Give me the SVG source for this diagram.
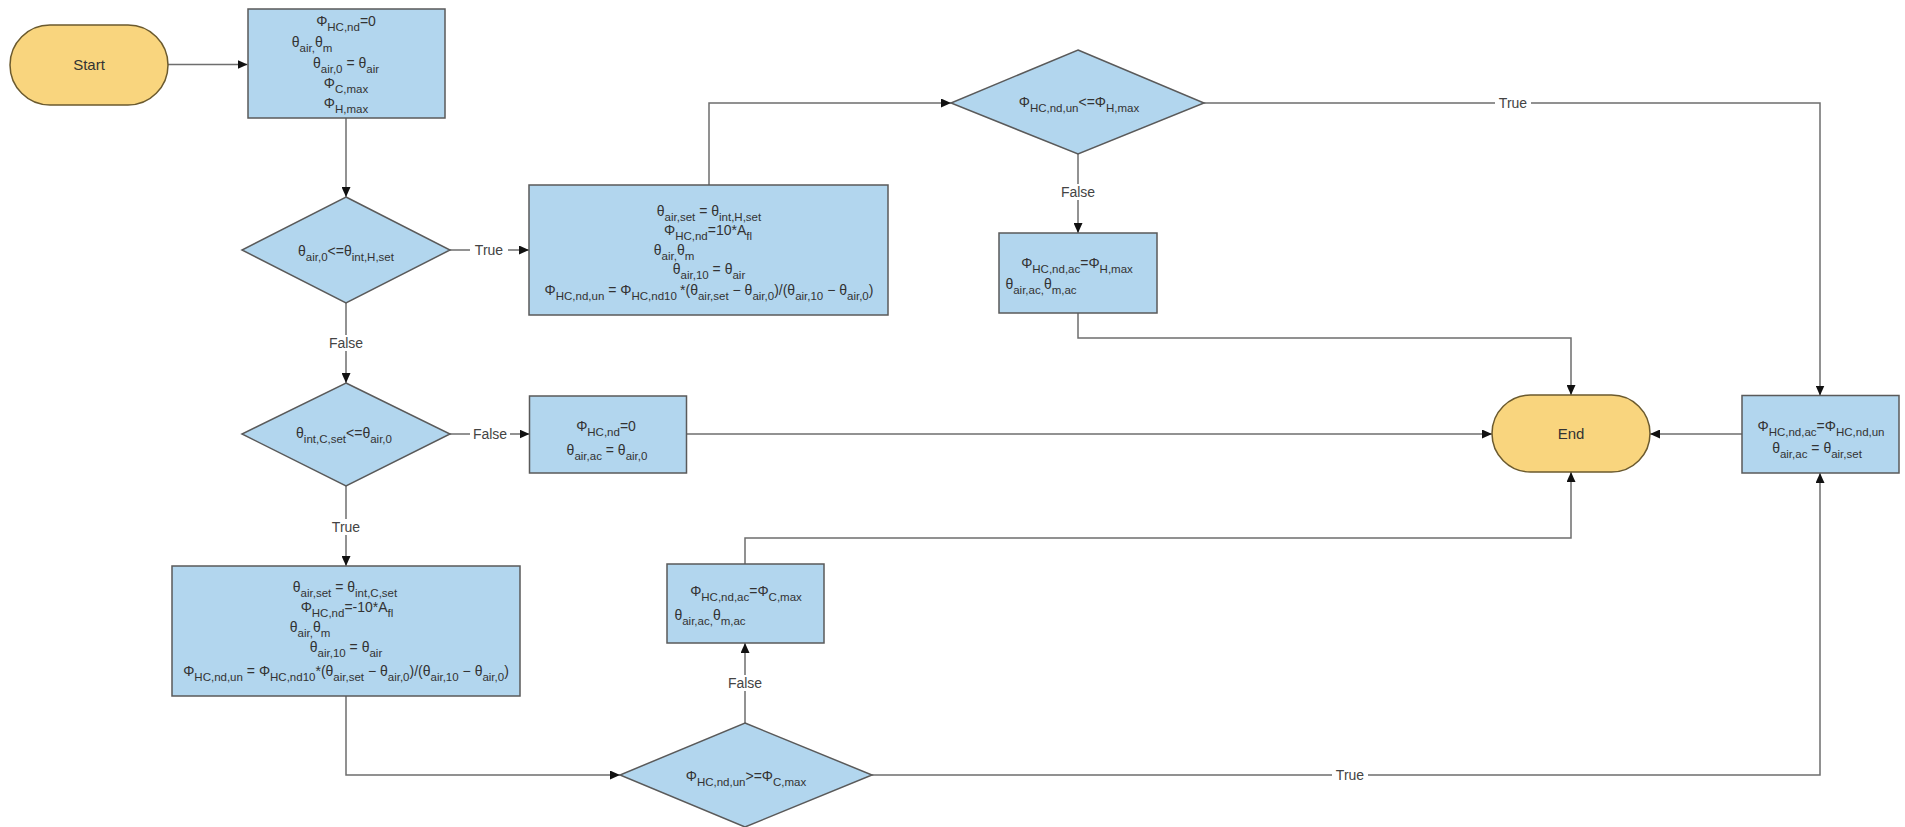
<svg xmlns="http://www.w3.org/2000/svg" width="1905" height="827" viewBox="0 0 1905 827">
<defs>
<style>
.box{fill:#b2d6ee;stroke:#5a5a5a;stroke-width:1.5}
.term{fill:#f9d57e;stroke:#6b5a2e;stroke-width:1.5}
.t{font-family:"Liberation Sans",Arial,sans-serif;font-size:14px;fill:#333;text-anchor:middle}
.s{font-size:11.5px}
.edge{fill:none;stroke:#6e6e6e;stroke-width:1.5}
.lbl{font-family:"Liberation Sans",Arial,sans-serif;font-size:14px;fill:#444;text-anchor:middle}
.lb{fill:#fff}
</style>
<marker id="arr" viewBox="0 0 10 9" refX="10" refY="4.5" markerWidth="10" markerHeight="9" markerUnits="userSpaceOnUse" orient="auto"><path d="M0,0 L10,4.5 L0,9 z" fill="#111"/></marker>
</defs>
<rect width="1905" height="827" fill="#fff"/>

<g id="connectors">
<path class="edge" d="M168,64.5 H247.5" marker-end="url(#arr)"/>
<path class="edge" d="M346,118 V197" marker-end="url(#arr)"/>
<path class="edge" d="M346,303 V383" marker-end="url(#arr)"/>
<path class="edge" d="M450,250 H529" marker-end="url(#arr)"/>
<path class="edge" d="M709,185 V103 H951" marker-end="url(#arr)"/>
<path class="edge" d="M1204,103 H1820 V395.5" marker-end="url(#arr)"/>
<path class="edge" d="M1078,154 V233" marker-end="url(#arr)"/>
<path class="edge" d="M1078,313 V338 H1571 V395" marker-end="url(#arr)"/>
<path class="edge" d="M450,434 H529.5" marker-end="url(#arr)"/>
<path class="edge" d="M687,434 H1492" marker-end="url(#arr)"/>
<path class="edge" d="M346,486 V566" marker-end="url(#arr)"/>
<path class="edge" d="M346,696 V775 H620" marker-end="url(#arr)"/>
<path class="edge" d="M745,723 V643" marker-end="url(#arr)"/>
<path class="edge" d="M745,564 V538 H1571 V472" marker-end="url(#arr)"/>
<path class="edge" d="M872,775 H1820 V473" marker-end="url(#arr)"/>
<path class="edge" d="M1742,434 H1650" marker-end="url(#arr)"/>
<g id="edge-labels">
<rect class="lb" x="470" y="242" width="38" height="16"/><text class="lbl" x="489" y="255">True</text>
<rect class="lb" x="326" y="335" width="40" height="16"/><text class="lbl" x="346" y="348">False</text>
<rect class="lb" x="470" y="426" width="40" height="16"/><text class="lbl" x="490" y="439">False</text>
<rect class="lb" x="327" y="519" width="38" height="16"/><text class="lbl" x="346" y="532">True</text>
<rect class="lb" x="1058" y="184" width="40" height="16"/><text class="lbl" x="1078" y="197">False</text>
<rect class="lb" x="1495" y="95" width="36" height="16"/><text class="lbl" x="1513" y="108">True</text>
<rect class="lb" x="725" y="675" width="40" height="16"/><text class="lbl" x="745" y="688">False</text>
<rect class="lb" x="1332" y="767" width="36" height="16"/><text class="lbl" x="1350" y="780">True</text>
</g>
</g>

<g id="start">
<rect class="term" x="10" y="25" width="158" height="80" rx="40" ry="40"/>
<text class="t" x="89" y="70" style="font-size:15px">Start</text>
</g>

<g id="init">
<rect class="box" x="248" y="9" width="197" height="109"/>
<text class="t" x="346" y="26">Φ<tspan class="s" dy="5">HC,nd</tspan><tspan dy="-5">=0</tspan></text>
<text class="t" x="312" y="47">θ<tspan class="s" dy="5">air,</tspan><tspan dy="-5">θ</tspan><tspan class="s" dy="5">m</tspan></text>
<text class="t" x="346" y="68">θ<tspan class="s" dy="5">air,0</tspan><tspan dy="-5"> = θ</tspan><tspan class="s" dy="5">air</tspan></text>
<text class="t" x="346" y="88">Φ<tspan class="s" dy="5">C,max</tspan></text>
<text class="t" x="346" y="108">Φ<tspan class="s" dy="5">H,max</tspan></text>
</g>

<g id="dec-heat">
<polygon class="box" points="346,197 450,250 346,303 242,250"/>
<text class="t" x="346" y="256">θ<tspan class="s" dy="5">air,0</tspan><tspan dy="-5">&lt;=θ</tspan><tspan class="s" dy="5">int,H,set</tspan></text>
</g>

<g id="heat-calc">
<rect class="box" x="529" y="185" width="359" height="130"/>
<text class="t" x="709" y="216">θ<tspan class="s" dy="5">air,set</tspan><tspan dy="-5"> = θ</tspan><tspan class="s" dy="5">int,H,set</tspan></text>
<text class="t" x="708" y="235">Φ<tspan class="s" dy="5">HC,nd</tspan><tspan dy="-5">=10*A</tspan><tspan class="s" dy="5">fl</tspan></text>
<text class="t" x="674" y="255">θ<tspan class="s" dy="5">air,</tspan><tspan dy="-5">θ</tspan><tspan class="s" dy="5">m</tspan></text>
<text class="t" x="709" y="274">θ<tspan class="s" dy="5">air,10</tspan><tspan dy="-5"> = θ</tspan><tspan class="s" dy="5">air</tspan></text>
<text class="t" x="709" y="295">Φ<tspan class="s" dy="5">HC,nd,un</tspan><tspan dy="-5"> = Φ</tspan><tspan class="s" dy="5">HC,nd10 </tspan><tspan dy="-5">*(θ</tspan><tspan class="s" dy="5">air,set</tspan><tspan dy="-5"> − θ</tspan><tspan class="s" dy="5">air,0</tspan><tspan dy="-5">)/(θ</tspan><tspan class="s" dy="5">air,10</tspan><tspan dy="-5"> − θ</tspan><tspan class="s" dy="5">air,0</tspan><tspan dy="-5">)</tspan></text>
</g>

<g id="dec-hmax">
<polygon class="box" points="1078,50 1204,103 1078,154 951,103"/>
<text class="t" x="1079" y="107">Φ<tspan class="s" dy="5">HC,nd,un</tspan><tspan dy="-5">&lt;=Φ</tspan><tspan class="s" dy="5">H,max</tspan></text>
</g>

<g id="heat-max">
<rect class="box" x="999" y="233" width="158" height="80"/>
<text class="t" x="1077" y="268">Φ<tspan class="s" dy="5">HC,nd,ac</tspan><tspan dy="-5">=Φ</tspan><tspan class="s" dy="5">H,max</tspan></text>
<text class="t" x="1041" y="289">θ<tspan class="s" dy="5">air,ac,</tspan><tspan dy="-5">θ</tspan><tspan class="s" dy="5">m,ac</tspan></text>
</g>

<g id="dec-cool">
<polygon class="box" points="346,383 450,434 346,486 242,434"/>
<text class="t" x="344" y="438">θ<tspan class="s" dy="5">int,C,set</tspan><tspan dy="-5">&lt;=θ</tspan><tspan class="s" dy="5">air,0</tspan></text>
</g>

<g id="no-demand">
<rect class="box" x="529.5" y="396" width="157" height="77"/>
<text class="t" x="606" y="431">Φ<tspan class="s" dy="5">HC,nd</tspan><tspan dy="-5">=0</tspan></text>
<text class="t" x="607" y="455">θ<tspan class="s" dy="5">air,ac</tspan><tspan dy="-5"> = θ</tspan><tspan class="s" dy="5">air,0</tspan></text>
</g>

<g id="end">
<rect class="term" x="1492" y="395" width="158" height="77" rx="38.5" ry="38.5"/>
<text class="t" x="1571" y="439" style="font-size:15px">End</text>
</g>

<g id="heat-ok">
<rect class="box" x="1742" y="395.5" width="157" height="77.5"/>
<text class="t" x="1821" y="431">Φ<tspan class="s" dy="5">HC,nd,ac</tspan><tspan dy="-5">=Φ</tspan><tspan class="s" dy="5">HC,nd,un</tspan></text>
<text class="t" x="1817" y="453">θ<tspan class="s" dy="5">air,ac</tspan><tspan dy="-5"> = θ</tspan><tspan class="s" dy="5">air,set</tspan></text>
</g>

<g id="cool-calc">
<rect class="box" x="172" y="566" width="348" height="130"/>
<text class="t" x="345" y="592">θ<tspan class="s" dy="5">air,set</tspan><tspan dy="-5"> = θ</tspan><tspan class="s" dy="5">int,C,set</tspan></text>
<text class="t" x="347" y="612">Φ<tspan class="s" dy="5">HC,nd</tspan><tspan dy="-5">=-10*A</tspan><tspan class="s" dy="5">fl</tspan></text>
<text class="t" x="310" y="632">θ<tspan class="s" dy="5">air,</tspan><tspan dy="-5">θ</tspan><tspan class="s" dy="5">m</tspan></text>
<text class="t" x="346" y="652">θ<tspan class="s" dy="5">air,10</tspan><tspan dy="-5"> = θ</tspan><tspan class="s" dy="5">air</tspan></text>
<text class="t" x="346" y="676">Φ<tspan class="s" dy="5">HC,nd,un</tspan><tspan dy="-5"> = Φ</tspan><tspan class="s" dy="5">HC,nd10</tspan><tspan dy="-5">*(θ</tspan><tspan class="s" dy="5">air,set</tspan><tspan dy="-5"> − θ</tspan><tspan class="s" dy="5">air,0</tspan><tspan dy="-5">)/(θ</tspan><tspan class="s" dy="5">air,10</tspan><tspan dy="-5"> − θ</tspan><tspan class="s" dy="5">air,0</tspan><tspan dy="-5">)</tspan></text>
</g>

<g id="cool-max">
<rect class="box" x="667" y="564" width="157" height="79"/>
<text class="t" x="746" y="596">Φ<tspan class="s" dy="5">HC,nd,ac</tspan><tspan dy="-5">=Φ</tspan><tspan class="s" dy="5">C,max</tspan></text>
<text class="t" x="710" y="620">θ<tspan class="s" dy="5">air,ac,</tspan><tspan dy="-5">θ</tspan><tspan class="s" dy="5">m,ac</tspan></text>
</g>

<g id="dec-cmax">
<polygon class="box" points="745,723 872,775 745,827 620,775"/>
<text class="t" x="746" y="781">Φ<tspan class="s" dy="5">HC,nd,un</tspan><tspan dy="-5">&gt;=Φ</tspan><tspan class="s" dy="5">C,max</tspan></text>
</g>
</svg>
